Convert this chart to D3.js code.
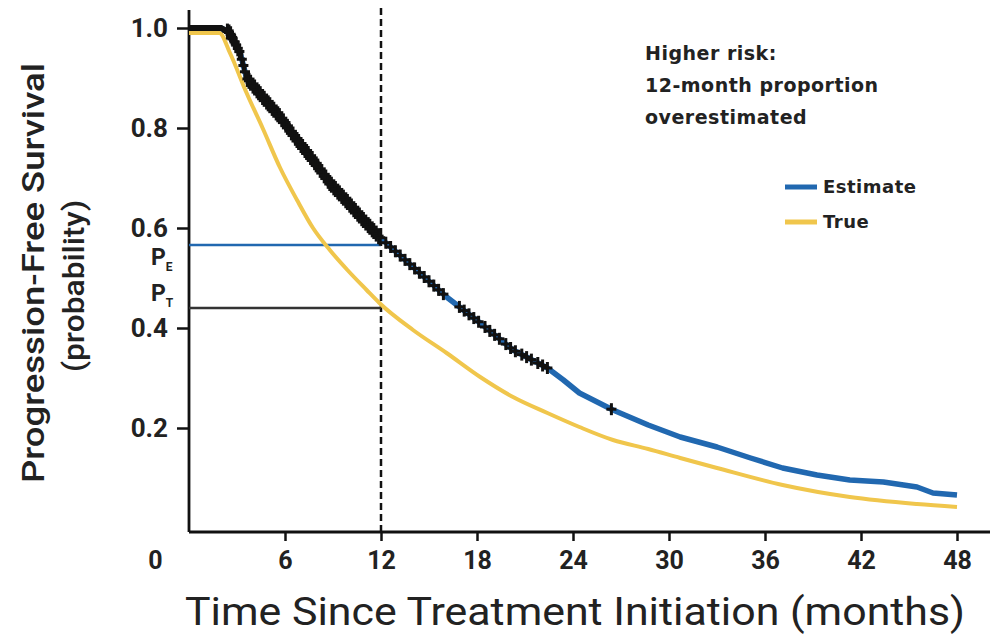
<!DOCTYPE html>
<html>
<head>
<meta charset="utf-8">
<script src="https://cdn.jsdelivr.net/npm/d3@7"></script>
<style>
  body { margin: 0; background: #fff; }
  svg { display: block; }
</style>
</head>
<body>
<div id="chart"></div>
<script>
'use strict';

var estTime   = [0, 2.0, 2.56, 3.2, 3.6, 4.6, 5.7, 6.75, 7.75, 8.8, 9.9, 10.9, 11.9, 14, 16.1, 18.2, 20.25, 22.4, 23.4, 24.4, 26.5, 28.7, 30.7, 33, 35.1, 37.1, 39.25, 41.3, 43.4, 45.5, 46.5, 48];
var estSurv   = [1.0, 1.0, 0.99, 0.95, 0.90, 0.862, 0.822, 0.776, 0.736, 0.69, 0.652, 0.616, 0.582, 0.522, 0.462, 0.41, 0.356, 0.32, 0.296, 0.27, 0.236, 0.206, 0.182, 0.162, 0.14, 0.12, 0.106, 0.096, 0.092, 0.082, 0.07, 0.066];
var trueTime  = [0, 1.9, 2.56, 3.6, 4.6, 5.7, 6.75, 7.75, 8.8, 9.9, 11.1, 11.9, 14, 16.1, 18.2, 20.25, 22.4, 24.4, 26.5, 28.7, 30.7, 33, 37.1, 41.3, 45.5, 48];
var trueSurv  = [0.99, 0.99, 0.95, 0.87, 0.80, 0.72, 0.656, 0.60, 0.556, 0.516, 0.476, 0.45, 0.396, 0.35, 0.302, 0.262, 0.23, 0.202, 0.176, 0.158, 0.14, 0.12, 0.086, 0.062, 0.048, 0.042];
var censorTimes = [2.4, 2.5, 2.6, 2.7, 2.85, 2.95, 3.05, 3.15, 3.3, 3.4, 3.5, 3.65, 3.75, 3.85, 4.0, 4.1, 4.25, 4.35, 4.45, 4.6,
                   4.7, 4.85, 4.95, 5.05, 5.2, 5.3, 5.45, 5.55, 5.65, 5.8, 5.9, 6.05, 6.15, 6.25, 6.4, 6.5, 6.65, 6.75, 6.85,
                   7.0, 7.1, 7.25, 7.35, 7.45, 7.6, 7.7, 7.85, 7.95, 8.05, 8.2, 8.3, 8.45, 8.55, 8.7, 8.8, 8.9, 9.05, 9.15,
                   9.3, 9.4, 9.55, 9.65, 9.8, 9.9, 10.05, 10.15, 10.3, 10.4, 10.55, 10.65, 10.8, 10.9, 11.05, 11.2, 11.3,
                   11.45, 11.55, 11.7, 11.85, 11.95,
                   12.3, 12.6, 12.9, 13.2, 13.5, 13.8, 14.1, 14.4, 14.7, 15.0, 15.3, 15.6, 15.9, 16.9, 17.2, 17.5, 17.8,
                   18.1, 18.5, 18.8, 19.1, 19.4, 19.8, 20.1, 20.4, 20.8, 21.1, 21.4, 21.8, 22.1, 22.4, 26.4];
var xTicks = [0, 6, 12, 18, 24, 30, 36, 42, 48];
var yTicks = [0.2, 0.4, 0.6, 0.8, 1.0];
var landmark = 12;
var pEst = 0.566;
var pTrue = 0.44;
var noteLines = ['Higher risk:', '12-month proportion', 'overestimated'];
var legendItems = ['Estimate', 'True'];

var W = 994, H = 644;
var blue = '#2168b0', gold = '#f0c64c';

var svg = d3.select('#chart').append('svg')
    .attr('width', W)
    .attr('height', H);

var x = d3.scaleLinear().domain([0, 48]).range([189, 957]);
var y = d3.scaleLinear().domain([0, 1]).range([528, 28]);
var estAt = d3.scaleLinear().domain(estTime).range(estSurv);

var tickFont = '"Liberation Sans Narrow", "Arial Narrow", "Roboto", sans-serif';

// y axis
var yAxis = svg.append('g')
    .attr('transform', 'translate(' + x(0) + ',0)')
    .call(d3.axisLeft(y).tickValues(yTicks).tickFormat(d3.format('.1f')).tickSize(12).tickPadding(9));
yAxis.select('.domain').attr('d', 'M0,10V532');
yAxis.selectAll('line').attr('stroke-width', 2.5).attr('stroke', '#111');
yAxis.select('.domain').attr('stroke-width', 2.8).attr('stroke', '#111');
yAxis.selectAll('text').attr('font-family', tickFont).attr('font-weight', 'bold')
    .attr('font-size', 26).attr('fill', '#222');

// x axis
var xAxis = svg.append('g')
    .attr('transform', 'translate(0,532)')
    .call(d3.axisBottom(x).tickValues(xTicks).tickSize(9).tickPadding(10));
xAxis.select('.domain').attr('d', 'M' + x(0) + ',0H990').attr('stroke-width', 2.8).attr('stroke', '#111');
xAxis.selectAll('line').attr('stroke-width', 2.5).attr('stroke', '#111');
xAxis.selectAll('.tick').filter(function(d) { return d === 0; }).select('line').remove();
xAxis.selectAll('.tick').filter(function(d) { return d === 0; }).select('text').attr('x', -34);
xAxis.selectAll('text').attr('font-family', tickFont).attr('font-weight', 'bold')
    .attr('font-size', 25).attr('fill', '#222');

// axis titles
svg.append('g')
    .attr('transform', 'translate(33,273) rotate(-90)')
    .append('text')
    .attr('text-anchor', 'middle')
    .attr('dy', '0.35em')
    .attr('font-family', 'Roboto, sans-serif')
    .attr('font-weight', 500)
    .attr('font-size', 32)
    .attr('textLength', 420)
    .attr('lengthAdjust', 'spacingAndGlyphs')
    .attr('fill', '#222')
    .text('Progression-Free Survival');
svg.append('g')
    .attr('transform', 'translate(73,286) rotate(-90)')
    .append('text')
    .attr('text-anchor', 'middle')
    .attr('dy', '0.35em')
    .attr('font-family', 'Roboto, sans-serif')
    .attr('font-weight', 500)
    .attr('font-size', 30)
    .attr('textLength', 172)
    .attr('lengthAdjust', 'spacingAndGlyphs')
    .attr('fill', '#222')
    .text('(probability)');
svg.append('text')
    .attr('x', 575)
    .attr('y', 625)
    .attr('text-anchor', 'middle')
    .attr('font-family', 'Roboto, sans-serif')
    .attr('font-size', 38)
    .attr('textLength', 780)
    .attr('lengthAdjust', 'spacingAndGlyphs')
    .attr('fill', '#222')
    .text('Time Since Treatment Initiation (months)');

// landmark dashed line
svg.append('line')
    .attr('x1', x(landmark)).attr('x2', x(landmark))
    .attr('y1', 8).attr('y2', 532)
    .attr('stroke', '#111')
    .attr('stroke-width', 2.5)
    .attr('stroke-dasharray', '7,4');

// P_E and P_T reference lines
svg.append('line')
    .attr('x1', x(0)).attr('x2', x(landmark))
    .attr('y1', y(pEst)).attr('y2', y(pEst))
    .attr('stroke', blue).attr('stroke-width', 2.5);
svg.append('line')
    .attr('x1', x(0)).attr('x2', x(landmark))
    .attr('y1', y(pTrue)).attr('y2', y(pTrue))
    .attr('stroke', '#333').attr('stroke-width', 2.5);

var pLabels = [{ v: pEst, sub: 'E', dy: 20 }, { v: pTrue, sub: 'T', dy: -7 }];
pLabels.forEach(function(p) {
    var t = svg.append('text')
        .attr('x', 151)
        .attr('y', y(p.v) + p.dy)
        .attr('font-family', tickFont)
        .attr('font-weight', 'bold')
        .attr('font-size', 23)
        .attr('fill', '#222')
        .text('P');
    t.append('tspan')
        .attr('font-size', 12)
        .attr('dy', 6)
        .text(p.sub);
});

// curves
var line = d3.line()
    .x(function(d) { return x(d[0]); })
    .y(function(d) { return y(d[1]); });

svg.append('path')
    .datum(d3.zip(trueTime, trueSurv))
    .attr('fill', 'none')
    .attr('stroke', gold)
    .attr('stroke-width', 4)
    .attr('d', line.curve(d3.curveMonotoneX));

svg.append('path')
    .datum(d3.zip(estTime, estSurv))
    .attr('fill', 'none')
    .attr('stroke', blue)
    .attr('stroke-width', 5.5)
    .attr('stroke-linejoin', 'round')
    .attr('d', line.curve(d3.curveLinear));

// censoring marks
var marks = svg.append('g').attr('stroke', '#111').attr('stroke-width', 3);
censorTimes.forEach(function(t) {
    var cx = x(t), cy = y(estAt(t));
    var h = t < 12 ? 8 : 6;
    marks.append('line').attr('x1', cx).attr('x2', cx).attr('y1', cy - h).attr('y2', cy + h);
    marks.append('line').attr('x1', cx - 5).attr('x2', cx + 5).attr('y1', cy).attr('y2', cy);
});
// the flat start of the estimate is drawn dark too
svg.append('path')
    .datum(d3.zip(estTime.slice(0, 4), estSurv.slice(0, 4)))
    .attr('fill', 'none')
    .attr('stroke', '#111')
    .attr('stroke-width', 6)
    .attr('d', line);

// annotation
var note = svg.append('text')
    .attr('font-family', '"DejaVu Sans", sans-serif')
    .attr('font-weight', 'bold')
    .attr('font-size', 19)
    .attr('letter-spacing', 0.5)
    .attr('fill', '#222');
noteLines.forEach(function(s, i) {
    note.append('tspan').attr('x', 645).attr('y', 60 + i * 32).text(s);
});

// legend
var legend = svg.append('g')
    .selectAll('g')
    .data(legendItems)
    .enter().append('g')
    .attr('transform', function(d, i) { return 'translate(785,' + (187 + i * 35) + ')'; });
legend.append('line')
    .attr('x1', 0).attr('x2', 32)
    .attr('stroke', function(d, i) { return i === 0 ? blue : gold; })
    .attr('stroke-width', 5);
legend.append('text')
    .attr('x', 38)
    .attr('dy', '0.36em')
    .attr('font-family', '"DejaVu Sans", sans-serif')
    .attr('font-weight', 'bold')
    .attr('font-size', 18)
    .attr('letter-spacing', 0.5)
    .attr('fill', '#222')
    .text(function(d) { return d; });
</script>
</body>
</html>
